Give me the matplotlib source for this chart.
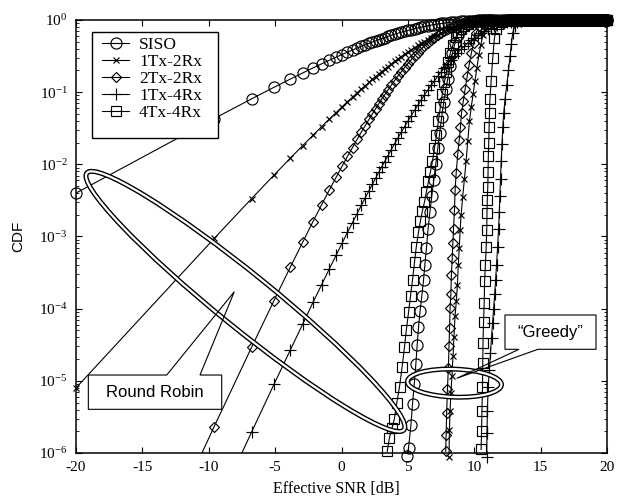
import matplotlib
matplotlib.use('Agg')
import matplotlib.pyplot as plt
from matplotlib.patches import Ellipse, Polygon, Rectangle
from matplotlib.lines import Line2D
from matplotlib import transforms
from matplotlib.ticker import FixedLocator, NullFormatter, LogLocator

plt.rcParams['font.family'] = 'Liberation Serif'
plt.rcParams['mathtext.fontset'] = 'custom'
plt.rcParams['mathtext.rm'] = 'Liberation Serif'
plt.rcParams['axes.unicode_minus'] = False

# ---- data (x in dB, y = CDF) ----
# round robin curves share one SNR grid
rr_snr_db = [-20.0, -9.59, -6.78, -5.09, -3.87, -2.92, -2.15, -1.49, -0.92, -0.41, 0.04,
             0.45, 0.83, 1.17, 1.49, 1.79, 2.07, 2.33, 2.58, 2.81, 3.03,
             3.25, 3.5, 3.75, 4.0, 4.25, 4.5, 4.75, 5.0, 5.25, 5.5,
             5.75, 6.0, 6.25, 6.5, 6.75, 7.0, 7.25, 7.5, 7.75, 8.0,
             8.25, 8.5, 8.75, 9.0, 9.25, 9.5, 9.75, 10.0, 10.25, 10.5,
             10.75, 11.0, 11.25, 11.5, 11.75, 12.0, 12.25,
             12.5, 12.75, 13.0, 13.25, 13.5, 13.75, 14.0, 14.25, 14.5, 14.75]

siso_rr = [0.0040, 0.0431, 0.0806, 0.1166, 0.1513, 0.1845, 0.2165, 0.2472, 0.2767, 0.3051, 0.3324,
           0.3585, 0.3837, 0.4078, 0.4311, 0.4534, 0.4748, 0.4954, 0.5152, 0.5342, 0.5525,
           0.571, 0.592, 0.613, 0.634, 0.655, 0.676, 0.697, 0.718, 0.738, 0.758,
           0.778, 0.797, 0.815, 0.833, 0.849, 0.865, 0.880, 0.894, 0.908, 0.920,
           0.931, 0.941, 0.950, 0.958, 0.966, 0.972, 0.977, 0.982, 0.986, 0.989,
           0.991, 0.994, 0.995, 0.997, 0.998, 0.998, 0.999,
           1.0, 1.0, 1.0, 1.0, 1.0, 1.0, 1.0, 1.0, 1.0, 1.0]

tx1rx2_rr = [7.98e-6, 9.40e-4, 3.34e-3, 7.08e-3, 0.0121, 0.0182, 0.0253, 0.0334, 0.0424, 0.0521, 0.0626,
             0.0737, 0.0854, 0.0976, 0.1102, 0.1232, 0.1366, 0.1502, 0.1642, 0.1783, 0.1926,
             0.2076, 0.2259, 0.2453, 0.266, 0.288, 0.311, 0.335, 0.361, 0.387, 0.415,
             0.443, 0.473, 0.503, 0.533, 0.564, 0.595, 0.626, 0.657, 0.688, 0.718,
             0.747, 0.774, 0.801, 0.826, 0.849, 0.871, 0.891, 0.908, 0.924, 0.938,
             0.950, 0.961, 0.969, 0.977, 0.983, 0.987, 0.991,
             0.993, 0.995, 0.997, 0.998, 0.999, 1.0, 1.0, 1.0, 1.0, 1.0]

tx2rx2_rr = [1.7e-10, 2.33e-6, 2.90e-5, 1.29e-4, 3.72e-4, 8.35e-4, 1.61e-3, 2.77e-3, 4.40e-3, 6.59e-3, 9.39e-3,
             0.0129, 0.0171, 0.0221, 0.0279, 0.0345, 0.0419, 0.0502, 0.0593, 0.0692, 0.0799,
             0.0918, 0.1073, 0.1249, 0.1447, 0.1667, 0.1916, 0.2186, 0.2490, 0.2815, 0.3167,
             0.3543, 0.3943, 0.4358, 0.4791, 0.5234, 0.5687, 0.6134, 0.6575, 0.7004, 0.7416,
             0.7803, 0.8161, 0.8487, 0.8778, 0.9032, 0.9247, 0.9427, 0.9576, 0.9693, 0.978,
             0.985, 0.990, 0.994, 0.996, 0.998, 0.999, 1.0,
             1.0, 1.0, 1.0, 1.0, 1.0, 1.0, 1.0, 1.0, 1.0, 1.0]

tx1rx4_rr = [1.1e-11, 1.5e-7, 1.94e-6, 8.92e-6, 2.64e-5, 6.13e-5, 1.22e-4, 2.16e-4, 3.55e-4, 5.48e-4, 8.05e-4,
             1.14e-3, 1.56e-3, 2.07e-3, 2.70e-3, 3.44e-3, 4.31e-3, 5.31e-3, 6.46e-3, 7.77e-3, 9.23e-3,
             0.0109, 0.0132, 0.0160, 0.0193, 0.0232, 0.0278, 0.0333, 0.0397, 0.0472, 0.0559,
             0.0661, 0.0778, 0.0913, 0.1067, 0.1242, 0.1438, 0.1658, 0.1903, 0.2177, 0.2476,
             0.2800, 0.3152, 0.3526, 0.3921, 0.4341, 0.4771, 0.5216, 0.5665, 0.6114, 0.6557,
             0.6989, 0.7398, 0.7788, 0.8147, 0.8475, 0.8766, 0.9021,
             0.924, 0.942, 0.957, 0.969, 0.978, 0.985, 0.990, 0.994, 0.996, 0.997]

tx4rx4_rr_db = [3.44, 3.61, 3.80, 3.99, 4.16, 4.37, 4.57, 4.74, 4.88, 5.05,
                5.20, 5.35, 5.50, 5.63, 5.80, 5.95, 6.10, 6.25, 6.40, 6.55,
                6.70, 6.85, 7.00, 7.15, 7.30, 7.45, 7.60, 7.75, 7.90, 8.05,
                8.20, 8.40, 8.60, 8.80, 9.00, 9.25, 9.50, 9.75, 10.0, 10.25,
                10.5, 10.75, 11.0, 11.25]
tx4rx4_rr = [1.05e-6, 1.62e-6, 2.19e-6, 3.0e-6, 4.9e-6, 8.3e-6, 1.58e-5, 2.9e-5, 5.0e-5, 8.9e-5,
             1.51e-4, 2.51e-4, 4.4e-4, 7.1e-4, 1.15e-3, 1.66e-3, 2.29e-3, 3.0e-3, 4.2e-3, 5.8e-3,
             7.9e-3, 0.011, 0.0166, 0.0251, 0.0398, 0.063, 0.095, 0.138, 0.19, 0.263,
             0.347, 0.457, 0.575, 0.676, 0.759, 0.832, 0.891, 0.933, 0.955, 0.97,
             0.98, 0.99, 0.995, 1.0]

# greedy scheduling curves
siso_gr_db = [4.90, 5.05, 5.23, 5.35, 5.48, 5.60, 5.70, 5.80, 5.92, 6.05,
              6.18, 6.28, 6.40, 6.52, 6.66, 6.80, 6.95, 7.10, 7.25, 7.40,
              7.55, 7.70, 7.85, 8.00, 8.18, 8.36, 8.55, 8.75, 9.00, 9.25,
              9.50, 9.75, 10.0, 10.25, 10.5, 10.75, 11.0, 11.25]
siso_gr = [9.0e-7, 1.17e-6, 2.45e-6, 4.8e-6, 9.1e-6, 1.7e-5, 3.1e-5, 5.5e-5, 9.3e-5, 1.51e-4,
           2.51e-4, 4.07e-4, 6.9e-4, 1.26e-3, 2.19e-3, 3.63e-3, 6.0e-3, 0.010, 0.0166, 0.0275,
           0.0457, 0.0724, 0.110, 0.151, 0.229, 0.347, 0.479, 0.617, 0.741, 0.832,
           0.891, 0.933, 0.955, 0.970, 0.980, 0.990, 0.995, 1.0]

tx1rx2_gr_db = [8.10, 8.13, 8.18, 8.24, 8.32, 8.40, 8.47, 8.55, 8.65, 8.73,
                8.80, 8.87, 8.94, 9.01, 9.13, 9.26, 9.39, 9.51, 9.64, 9.78,
                9.92, 10.06, 10.2, 10.35, 10.5, 10.65, 10.82, 11.0, 11.25, 11.5,
                11.75, 12.0]
tx1rx2_gr = [8.9e-7, 2.1e-6, 3.8e-6, 6.8e-6, 1.15e-5, 2.19e-5, 4.07e-5, 7.8e-5, 1.26e-4, 2.14e-4,
             4.07e-4, 6.9e-4, 1.23e-3, 2.0e-3, 3.55e-3, 6.3e-3, 0.0112, 0.0209, 0.0398, 0.063,
             0.0955, 0.145, 0.219, 0.324, 0.457, 0.617, 0.759, 0.871, 0.944, 0.977,
             0.991, 1.0]

tx2rx2_gr_db = [7.85, 7.88, 7.92, 7.98, 8.05, 8.10, 8.14, 8.18, 8.24, 8.28,
                8.34, 8.39, 8.44, 8.51, 8.56, 8.64, 8.76, 8.87, 8.96, 9.04,
                9.18, 9.32, 9.47, 9.62, 9.78, 9.95, 10.14, 10.35, 10.6, 10.85,
                11.1, 11.35]
tx2rx2_gr = [1.05e-6, 1.78e-6, 3.55e-6, 7.6e-6, 1.51e-5, 3.0e-5, 5.4e-5, 1.02e-4, 1.62e-4, 2.95e-4,
             5.0e-4, 8.1e-4, 1.29e-3, 2.34e-3, 4.47e-3, 7.6e-3, 0.0141, 0.0219, 0.0331, 0.0513,
             0.0759, 0.112, 0.166, 0.24, 0.347, 0.479, 0.661, 0.813, 0.912, 0.966,
             0.989, 1.0]

tx1rx4_gr_db = [10.94, 10.96, 10.99, 11.05, 11.14, 11.22, 11.30, 11.38, 11.46, 11.54,
                11.61, 11.68, 11.76, 11.83, 11.89, 11.93, 11.98, 12.03, 12.09, 12.15,
                12.22, 12.32, 12.45, 12.58, 12.70, 12.80, 12.90, 13.05, 13.25, 13.5,
                13.75]
tx1rx4_gr = [8.9e-7, 1.9e-6, 3.8e-6, 8.3e-6, 1.41e-5, 2.4e-5, 3.98e-5, 6.3e-5, 1.0e-4, 1.58e-4,
             2.51e-4, 4.07e-4, 7.2e-4, 1.26e-3, 2.19e-3, 3.63e-3, 6.3e-3, 0.011, 0.019, 0.0324,
             0.0513, 0.0794, 0.126, 0.2, 0.316, 0.468, 0.661, 0.832, 0.933, 0.977,
             1.0]

tx4rx4_gr_db = [10.52, 10.55, 10.58, 10.62, 10.64, 10.66, 10.70, 10.75, 10.78, 10.84,
                10.90, 10.94, 10.96, 10.98, 11.02, 11.04, 11.06, 11.09, 11.12, 11.15,
                11.18, 11.27, 11.39, 11.52, 11.65, 11.8, 12.0, 12.25, 12.5]
tx4rx4_gr = [1.12e-6, 2.0e-6, 3.8e-6, 8.3e-6, 1.78e-5, 3.3e-5, 6.6e-5, 1.2e-4, 2.4e-4, 4.07e-4,
             7.2e-4, 1.23e-3, 2.09e-3, 3.16e-3, 4.9e-3, 7.9e-3, 0.0129, 0.0195, 0.0331, 0.0513,
             0.0794, 0.141, 0.295, 0.562, 0.741, 0.871, 0.944, 0.98, 0.995]

# every curve sits at CDF = 1 out to 20 dB (dense run of overlapping markers)
tail_db = [12.5, 12.6, 12.7, 12.8, 12.9, 13.0, 13.1, 13.2, 13.3, 13.4,
           13.5, 13.6, 13.7, 13.8, 13.9, 14.0, 14.1, 14.2, 14.3, 14.4,
           14.5, 14.6, 14.7, 14.8, 14.9, 15.0, 15.1, 15.2, 15.3, 15.4,
           15.5, 15.6, 15.7, 15.8, 15.9, 16.0, 16.1, 16.2, 16.3, 16.4,
           16.5, 16.6, 16.7, 16.8, 16.9, 17.0, 17.1, 17.2, 17.3, 17.4,
           17.5, 17.6, 17.7, 17.8, 17.9, 18.0, 18.1, 18.2, 18.3, 18.4,
           18.5, 18.6, 18.7, 18.8, 18.9, 19.0, 19.1, 19.2, 19.3, 19.4,
           19.5, 19.6, 19.7, 19.8, 19.9, 20.0]
tail_cdf = [1.0, 1.0, 1.0, 1.0, 1.0, 1.0, 1.0, 1.0, 1.0, 1.0,
            1.0, 1.0, 1.0, 1.0, 1.0, 1.0, 1.0, 1.0, 1.0, 1.0,
            1.0, 1.0, 1.0, 1.0, 1.0, 1.0, 1.0, 1.0, 1.0, 1.0,
            1.0, 1.0, 1.0, 1.0, 1.0, 1.0, 1.0, 1.0, 1.0, 1.0,
            1.0, 1.0, 1.0, 1.0, 1.0, 1.0, 1.0, 1.0, 1.0, 1.0,
            1.0, 1.0, 1.0, 1.0, 1.0, 1.0, 1.0, 1.0, 1.0, 1.0,
            1.0, 1.0, 1.0, 1.0, 1.0, 1.0, 1.0, 1.0, 1.0, 1.0,
            1.0, 1.0, 1.0, 1.0, 1.0, 1.0]

labels = ['SISO', '1Tx-2Rx', '2Tx-2Rx', '1Tx-4Rx', '4Tx-4Rx']
markers = {'SISO': ('o', 8.0), '1Tx-2Rx': ('x', 4.6), '2Tx-2Rx': ('D', 5.3),
           '1Tx-4Rx': ('+', 8.0), '4Tx-4Rx': ('s', 6.7)}

fig = plt.figure(figsize=(6.19, 4.97), dpi=100)
ax = fig.add_axes([0.1228, 0.0885, 0.8578, 0.8713])


def draw(xs, ys, name):
    m, ms = markers[name]
    keep = [i for i, t in enumerate(tail_db) if t > xs[-1] + 0.01]
    x = xs + [tail_db[i] for i in keep]
    y = ys + [tail_cdf[i] for i in keep]
    ax.plot(x, y, '-', color='k', lw=0.8, zorder=2)
    ax.plot(x, y, ls='none', marker=m, ms=ms, mfc='none', mec='k', mew=0.85,
            clip_on=False, zorder=2)


draw(rr_snr_db, siso_rr, 'SISO')
draw(rr_snr_db, tx1rx2_rr, '1Tx-2Rx')
draw(rr_snr_db, tx2rx2_rr, '2Tx-2Rx')
draw(rr_snr_db, tx1rx4_rr, '1Tx-4Rx')
draw(tx4rx4_rr_db, tx4rx4_rr, '4Tx-4Rx')
draw(siso_gr_db, siso_gr, 'SISO')
draw(tx1rx2_gr_db, tx1rx2_gr, '1Tx-2Rx')
draw(tx2rx2_gr_db, tx2rx2_gr, '2Tx-2Rx')
draw(tx1rx4_gr_db, tx1rx4_gr, '1Tx-4Rx')
draw(tx4rx4_gr_db, tx4rx4_gr, '4Tx-4Rx')

ax.set_yscale('log')
ax.set_xlim(-20, 20)
ax.set_ylim(1e-6, 1)
ax.set_xticks([-20, -15, -10, -5, 0, 5, 10, 15, 20])
ax.yaxis.set_major_locator(FixedLocator([1e-6, 1e-5, 1e-4, 1e-3, 1e-2, 1e-1, 1]))
ax.yaxis.set_minor_locator(LogLocator(base=10, subs=range(2, 10), numticks=20))
ax.yaxis.set_minor_formatter(NullFormatter())
ax.tick_params(which='both', direction='in', top=True, right=True, labelsize=11, pad=6)
ax.tick_params(which='major', length=4.5, width=0.8)
ax.tick_params(which='minor', length=2.5, width=0.6)
for s in ax.spines.values():
    s.set_linewidth(1.1)

ax.set_xlabel('Effective SNR [dB]', fontsize=11.5)
ax.xaxis.set_label_coords(0.49, -0.064)
ax.set_ylabel('CDF', family='Liberation Sans', fontsize=11)
ax.yaxis.set_label_coords(-0.096, 0.5)


# double-line ellipses, sized in inches around a data point
def double_ellipse(cx, cy, w, h, ang):
    tr = fig.dpi_scale_trans + transforms.ScaledTranslation(cx, cy, ax.transData)
    for lw, col in ((3.6, 'k'), (1.6, 'w')):
        ax.add_patch(Ellipse((0, 0), w, h, angle=ang, fill=False, lw=lw, ec=col,
                             transform=tr, zorder=5))


double_ellipse(-7.24, 1.26e-4, 4.08, 0.54, -39.0)
double_ellipse(8.51, 9.3e-6, 0.94, 0.28, -2.0)


def callout(x0, y0, x1, y1, pts, text):
    ax.add_patch(Rectangle((x0, y0), x1 - x0, y1 - y0, transform=ax.transAxes,
                           fc='w', ec='none', zorder=6))
    ax.add_patch(Polygon(pts, closed=True, fill=False, ec='k', lw=0.8,
                         transform=ax.transAxes, zorder=7))
    ax.text((x0 + x1) / 2, (y0 + y1) / 2, text, transform=ax.transAxes, ha='center',
            va='center', family='Liberation Sans', fontsize=12, zorder=8)


callout(0.0232, 0.1009, 0.2744, 0.1801,
        [(0.0232, 0.1009), (0.2744, 0.1009), (0.2744, 0.1801), (0.2335, 0.1801),
         (0.2981, 0.3725), (0.1708, 0.1801), (0.0232, 0.1801)], 'Round Robin')
callout(0.8079, 0.2395, 0.9793, 0.3187,
        [(0.8079, 0.3187), (0.9793, 0.3187), (0.9793, 0.2395), (0.870, 0.2395),
         (0.717, 0.1725), (0.8343, 0.2395), (0.8079, 0.2395)], '\u201cGreedy\u201d')

# legend with a hand-drawn frame
ax.add_patch(Rectangle((0.0296, 0.7268), 0.2384, 0.2462, transform=ax.transAxes,
                       fc='w', ec='k', lw=1.0, zorder=9))
handles = [Line2D([], [], color='k', lw=0.8, marker=markers[n][0], ms=markers[n][1],
                  mfc='none', mec='k', mew=0.85) for n in labels]
leg = ax.legend(handles, labels, loc='upper left', bbox_to_anchor=(0.0484, 0.962),
                borderaxespad=0, borderpad=0, frameon=False, fontsize=12.5,
                handlelength=1.6, handletextpad=0.55, labelspacing=0.05)
leg.set_zorder(10)

fig.savefig('out.png', dpi=100)
